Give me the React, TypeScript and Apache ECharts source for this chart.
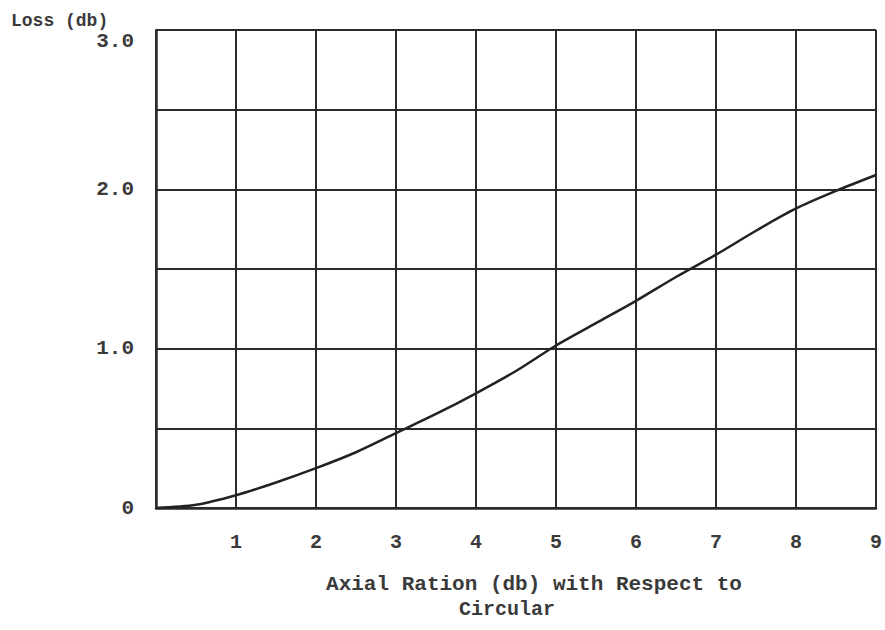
import React, { useEffect, useRef } from "react";
import * as echarts from "echarts";

// Axial ratio (db) vs. polarization loss (db)
const axialRatio = [0, 0.5, 1, 1.5, 2, 2.5, 3, 3.5, 4, 4.5, 5, 5.5, 6, 6.5, 7, 7.5, 8, 8.5, 9];
const lossDb = [0, 0.02, 0.08, 0.16, 0.25, 0.35, 0.47, 0.59, 0.72, 0.86, 1.02, 1.16, 1.3, 1.45, 1.59, 1.74, 1.88, 1.99, 2.09];

const yTitle = "Loss (db)";
const xTitleLine1 = "Axial Ration (db) with Respect to";
const xTitleLine2 = "Circular";

const FONT = "'Liberation Mono', 'DejaVu Sans Mono', monospace";
const INK = "#2b2b2b";
const TEXT = "#3a3a3a";

export default function App() {
  const ref = useRef<HTMLDivElement>(null);

  useEffect(() => {
    if (!ref.current) return;
    const chart = echarts.init(ref.current, null, { renderer: "svg" });
    const points = axialRatio.map((x, i) => [x, lossDb[i]]);
    chart.setOption({
      animation: false,
      backgroundColor: "#ffffff",
      grid: { left: 156, right: 4, top: 30, bottom: 122, containLabel: false },
      xAxis: {
        type: "value",
        min: 0,
        max: 9,
        interval: 1,
        axisLine: { show: true, lineStyle: { color: INK, width: 2.5 } },
        axisTick: { show: false },
        splitLine: { show: true, lineStyle: { color: INK, width: 2 } },
        axisLabel: {
          margin: 24,
          color: TEXT,
          fontFamily: FONT,
          fontSize: 20,
          fontWeight: "bold",
          formatter: (v: number) => (v === 0 ? "" : String(v)),
        },
      },
      yAxis: {
        type: "value",
        min: 0,
        max: 3,
        interval: 0.5,
        axisLine: { show: true, lineStyle: { color: INK, width: 2.5 } },
        axisTick: { show: false },
        splitLine: { show: true, lineStyle: { color: INK, width: 2 } },
        axisLabel: {
          margin: 22,
          color: TEXT,
          fontFamily: FONT,
          fontSize: 21,
          fontWeight: "bold",
          lineHeight: 22,
          formatter: (v: number) => {
            if (v === 0) return "0";
            if (v === 3) return "\n3.0";
            return Number.isInteger(v) ? v.toFixed(1) : "";
          },
        },
      },
      graphic: [
        {
          type: "text",
          x: 11,
          y: 21,
          style: {
            text: yTitle,
            fill: TEXT,
            font: `bold 18px ${FONT}`,
            verticalAlign: "middle",
          },
        },
        {
          type: "text",
          x: 534,
          y: 584,
          style: {
            text: xTitleLine1,
            fill: TEXT,
            font: `bold 21px ${FONT}`,
            align: "center",
            verticalAlign: "middle",
          },
        },
        {
          type: "text",
          x: 459,
          y: 609,
          style: {
            text: xTitleLine2,
            fill: TEXT,
            font: `bold 20px ${FONT}`,
            align: "left",
            verticalAlign: "middle",
          },
        },
      ],
      series: [
        {
          type: "line",
          data: points,
          smooth: 0.3,
          showSymbol: false,
          lineStyle: { color: "#222222", width: 2.5 },
        },
      ],
    });
    return () => chart.dispose();
  }, []);

  return (
    <div
      ref={ref}
      style={{ position: "fixed", left: 0, top: 0, width: 885, height: 630 }}
    />
  );
}
